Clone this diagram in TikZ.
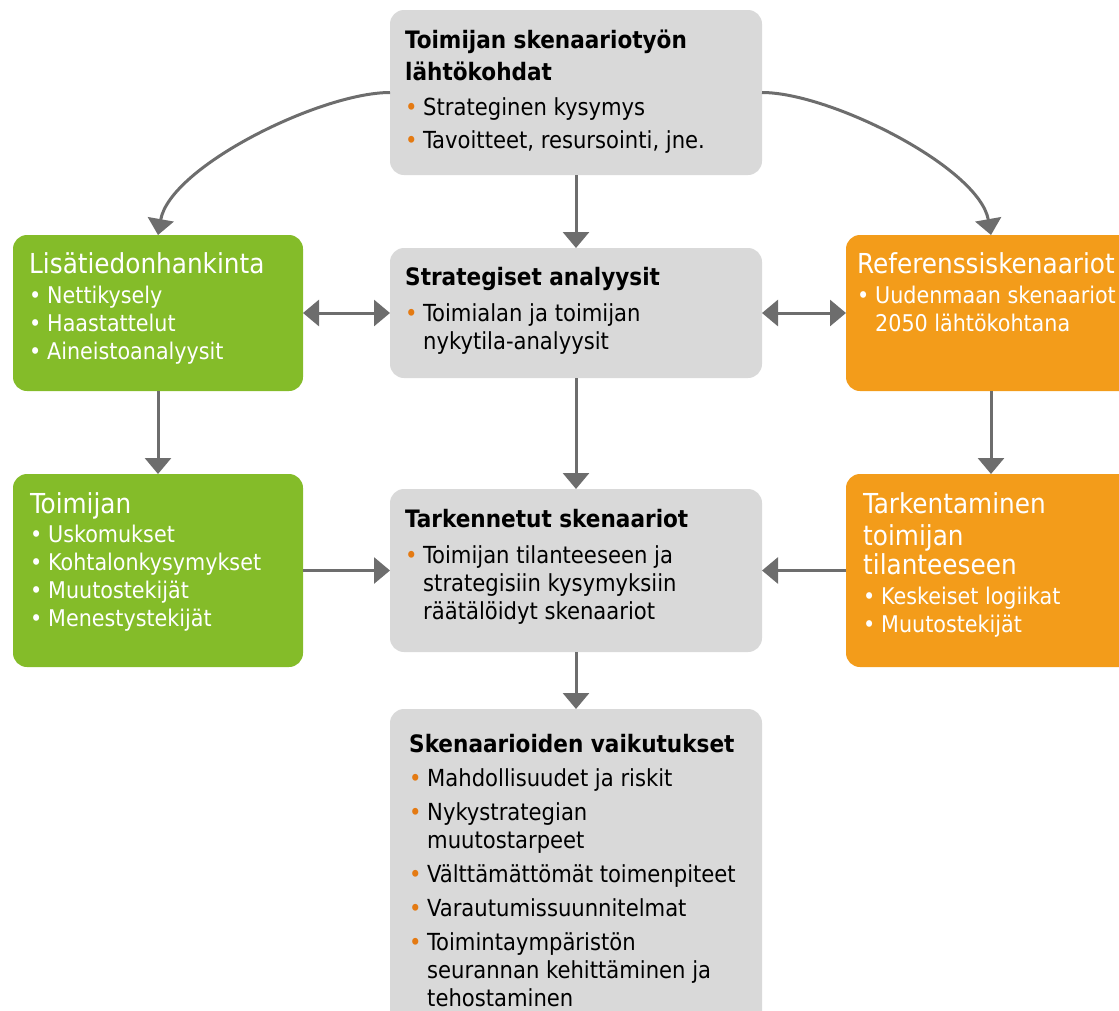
\documentclass[tikz,border=0pt]{standalone}
\usepackage{fontspec}
\setmainfont{DejaVu Sans Condensed}
\usepackage{tikz}
\usetikzlibrary{positioning,arrows.meta}
\usepackage{xcolor}
\definecolor{boxgrey}{HTML}{D9D9D9}
\definecolor{boxgreen}{HTML}{84BC29}
\definecolor{boxorange}{HTML}{F39C1A}
\definecolor{arrowgrey}{HTML}{6D6D6D}
\definecolor{dotorange}{HTML}{E47A12}
\tikzset{
	box/.style={rectangle, rounded corners=14pt, inner sep=0pt, outer sep=0pt, anchor=north west},
	greybox/.style={box, fill=boxgrey},
	greenbox/.style={box, fill=boxgreen, minimum width=290pt},
	orangebox/.style={box, fill=boxorange, minimum width=290pt},
	gtext/.style={anchor=north west, inner sep=0pt, align=left, text=black, font=\fontsize{23.5}{28}\selectfont},
	ctext/.style={gtext, text=white, font=\fontsize{23}{28}\selectfont},
	arr/.style={draw=arrowgrey, line width=3pt, -{Triangle[width=26pt,length=16pt]}},
	darr/.style={arr, {Triangle[width=26pt,length=16pt]}-{Triangle[width=26pt,length=16pt]}}
}
\newcommand{\gtitle}[1]{{\fontsize{24}{30}\selectfont\bfseries #1}}
\newcommand{\ctitle}[1]{{\fontsize{27.5}{31}\selectfont #1}}
\newcommand{\gbul}{\makebox[18pt][l]{\textcolor{dotorange}{•}}}
\newcommand{\cbul}{\makebox[18pt][l]{•}}
\newcommand{\hang}{\hspace*{18pt}}

\begin{document}
\begin{tikzpicture}[x=1pt, y=-1pt]
	\useasboundingbox (0,0) rectangle (1119,1010);
	\clip (0,0) rectangle (1119,1010);

	\node[greybox, minimum width=372pt, minimum height=165pt] (lahto) at (390,10) {};
	\node[greenbox, minimum height=156pt] (lisa) at (13,235) {};
	\node[greybox, minimum width=372pt, minimum height=130pt] (analyysi) at (390,248) {};
	\node[orangebox, minimum height=156pt] (referenssi) at (846,235) {};
	\node[greenbox, minimum height=193pt] (toimijan) at (13,474) {};
	\node[greybox, minimum width=372pt, minimum height=163pt] (tarkennetut) at (390,489) {};
	\node[orangebox, minimum height=193pt] (tarkentaminen) at (846,474) {};
	\node[greybox, minimum width=372pt, minimum height=330pt] (vaikutukset) at (390,709) {};

	\node[gtext, below right=17pt and 15pt of lahto.north west] (lahto-txt) {%
		\gtitle{\strut Toimijan skenaariotyön}\\[4pt]
		\gtitle{lähtökohdat}\\[7pt]
		\gbul Strateginen kysymys\\[5pt]
		\gbul Tavoitteet, resursointi, jne.};
	\node[gtext, below right=16pt and 15pt of analyysi.north west] (analyysi-txt) {%
		\gtitle{\strut Strategiset analyysit}\\[8pt]
		\gbul Toimialan ja toimijan\\
		\hang nykytila-analyysit};
	\node[gtext, below right=17pt and 15pt of tarkennetut.north west] (tarkennetut-txt) {%
		\gtitle{\strut Tarkennetut skenaariot}\\[8pt]
		\gbul Toimijan tilanteeseen ja\\
		\hang strategisiin kysymyksiin\\
		\hang räätälöidyt skenaariot};
	\node[gtext, below right=22pt and 19pt of vaikutukset.north west] (vaikutukset-txt) {%
		\gtitle{\strut Skenaarioiden vaikutukset}\\[6pt]
		\gbul Mahdollisuudet ja riskit\\[6pt]
		\gbul Nykystrategian\\
		\hang muutostarpeet\\[6pt]
		\gbul Välttämättömät toimenpiteet\\[6pt]
		\gbul Varautumissuunnitelmat\\[6pt]
		\gbul Toimintaympäristön\\
		\hang seurannan kehittäminen ja\\
		\hang tehostaminen};

	\node[ctext, below right=16.3pt and 16pt of lisa.north west] (lisa-txt) {%
		\ctitle{\strut Lisätiedonhankinta}\\[2pt]
		\cbul Nettikysely\\
		\cbul Haastattelut\\
		\cbul Aineistoanalyysit};
	\node[ctext, below right=17.3pt and 17pt of toimijan.north west] (toimijan-txt) {%
		\ctitle{\strut Toimijan}\\[1pt]
		\cbul Uskomukset\\
		\cbul Kohtalonkysymykset\\
		\cbul Muutostekijät\\
		\cbul Menestystekijät};
	\node[ctext, below right=16.3pt and 11pt of referenssi.north west] (referenssi-txt) {%
		\ctitle{\strut Referenssiskenaariot}\\[2pt]
		\cbul Uudenmaan skenaariot\\
		\hang 2050 lähtökohtana};
	\node[ctext, below right=17.3pt and 17pt of tarkentaminen.north west] (tarkentaminen-txt) {%
		\ctitle{\strut Tarkentaminen}\\[1pt]
		\ctitle{toimijan}\\[1pt]
		\ctitle{tilanteeseen}\\[2pt]
		\cbul Keskeiset logiikat\\
		\cbul Muutostekijät};

	\draw[arr] (lahto.south) -- (analyysi.north);
	\draw[arr] (analyysi.south) -- (tarkennetut.north);
	\draw[arr] (tarkennetut.south) -- (vaikutukset.north);
	\draw[arr] (lisa.south) -- (toimijan.north);
	\draw[arr] (referenssi.south) -- (tarkentaminen.north);
	\draw[darr] (lisa.east) -- (analyysi.west);
	\draw[darr] (referenssi.west) -- (analyysi.east);
	\draw[arr] (toimijan.east) -- (tarkennetut.west);
	\draw[arr] (tarkentaminen.west) -- (tarkennetut.east);
	\draw[arr] (lahto.west) to[out=180, in=80, looseness=0.65] (lisa.north);
	\draw[arr] (lahto.east) to[out=0, in=100, looseness=0.65] (referenssi.north);

\end{tikzpicture}
\end{document}
